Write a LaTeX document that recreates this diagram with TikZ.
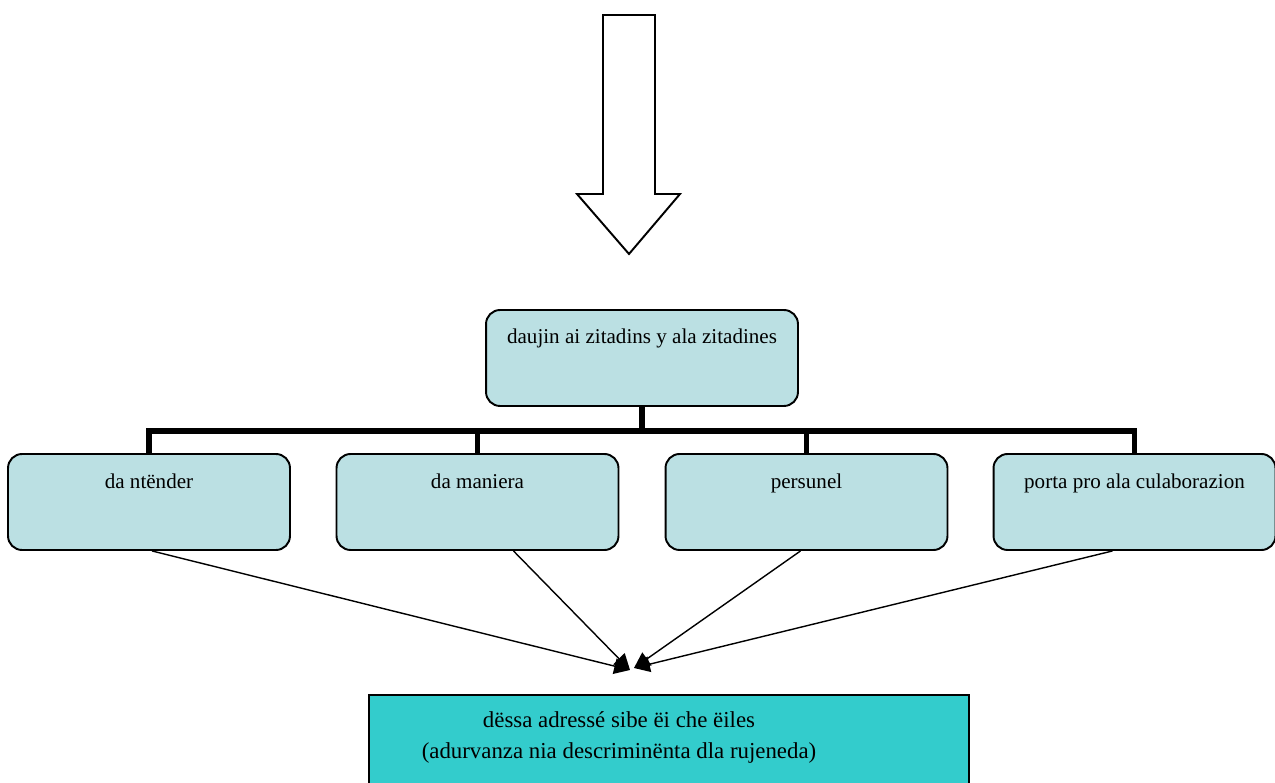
\documentclass[tikz,border=0pt]{standalone}
\usepackage{fontspec}
\setmainfont{Liberation Serif}
\usetikzlibrary{arrows.meta, positioning, calc}

\definecolor{boxfill}{RGB}{187,224,227}
\definecolor{goalfill}{RGB}{51,204,204}

\tikzset{
  item/.style={draw, line width=1.1pt, rounded corners=8pt, fill=boxfill,
    minimum width=5.64cm, minimum height=1.92cm},
  bus/.style={line width=3.4pt},
  link/.style={line width=0.8pt, -{Triangle[length=9pt,width=9pt]}},
}

\begin{document}
\begin{tikzpicture}[x=0.02cm, y=-0.02cm, font=\fontsize{12}{14}\selectfont]
        \useasboundingbox (0,0) rectangle (1275,783);

        % big hollow arrow on top
        \draw[line width=1.1pt, fill=white] (603,15) -- (655,15) -- (655,194) -- (680,194)
            -- (629,254) -- (577,194) -- (603,194) -- cycle;

        \node[item, minimum width=6.24cm,
              label={[anchor=north, yshift=-0.28cm]north:daujin ai zitadins y ala zitadines}] (top) at (642,358) {};

        \node[item, label={[anchor=north, yshift=-0.3cm]north:da ntënder}] (c1) at (149,502) {};
        \node[item, label={[anchor=north, yshift=-0.3cm]north:da maniera}] (c2) at (477.5,502) {};
        \node[item, label={[anchor=north, yshift=-0.3cm]north:persunel}] (c3) at (806.5,502) {};
        \node[item, label={[anchor=north, yshift=-0.3cm]north:porta pro ala culaborazion}] (c4) at (1134.5,502) {};

        \node[draw, line width=1.1pt, fill=goalfill, anchor=north, minimum width=12cm, minimum height=2.2cm,
              label={[anchor=north, xshift=-1cm, yshift=-0.22cm, align=center, font=\fontsize{13}{18}\selectfont]north:dëssa adressé sibe ëi che ëiles\\(adurvanza nia descriminënta dla rujeneda)}] (goal) at (669,694) {};

        % tree connectors
        \coordinate (bus) at (642,431);
        \draw[bus] (top.south) -- (bus);
        \draw[bus] (c1.north) |- (bus) -| (c4.north);
        \foreach \c in {c2,c3}
            \draw[bus] (\c.north) -- (\c.north |- bus);

        % arrows to the goal
        \coordinate (tipL) at (630,670);
        \coordinate (tipR) at (634,668);
        \draw[link] ($(c1.south)+(3,0)$) -- (tipL);
        \draw[link] ($(c2.south)+(36,0)$) -- (tipL);
        \draw[link] ($(c3.south)+(-6,0)$) -- (tipR);
        \draw[link] ($(c4.south)+(-22,0)$) -- (tipR);
    \end{tikzpicture}
\end{document}
